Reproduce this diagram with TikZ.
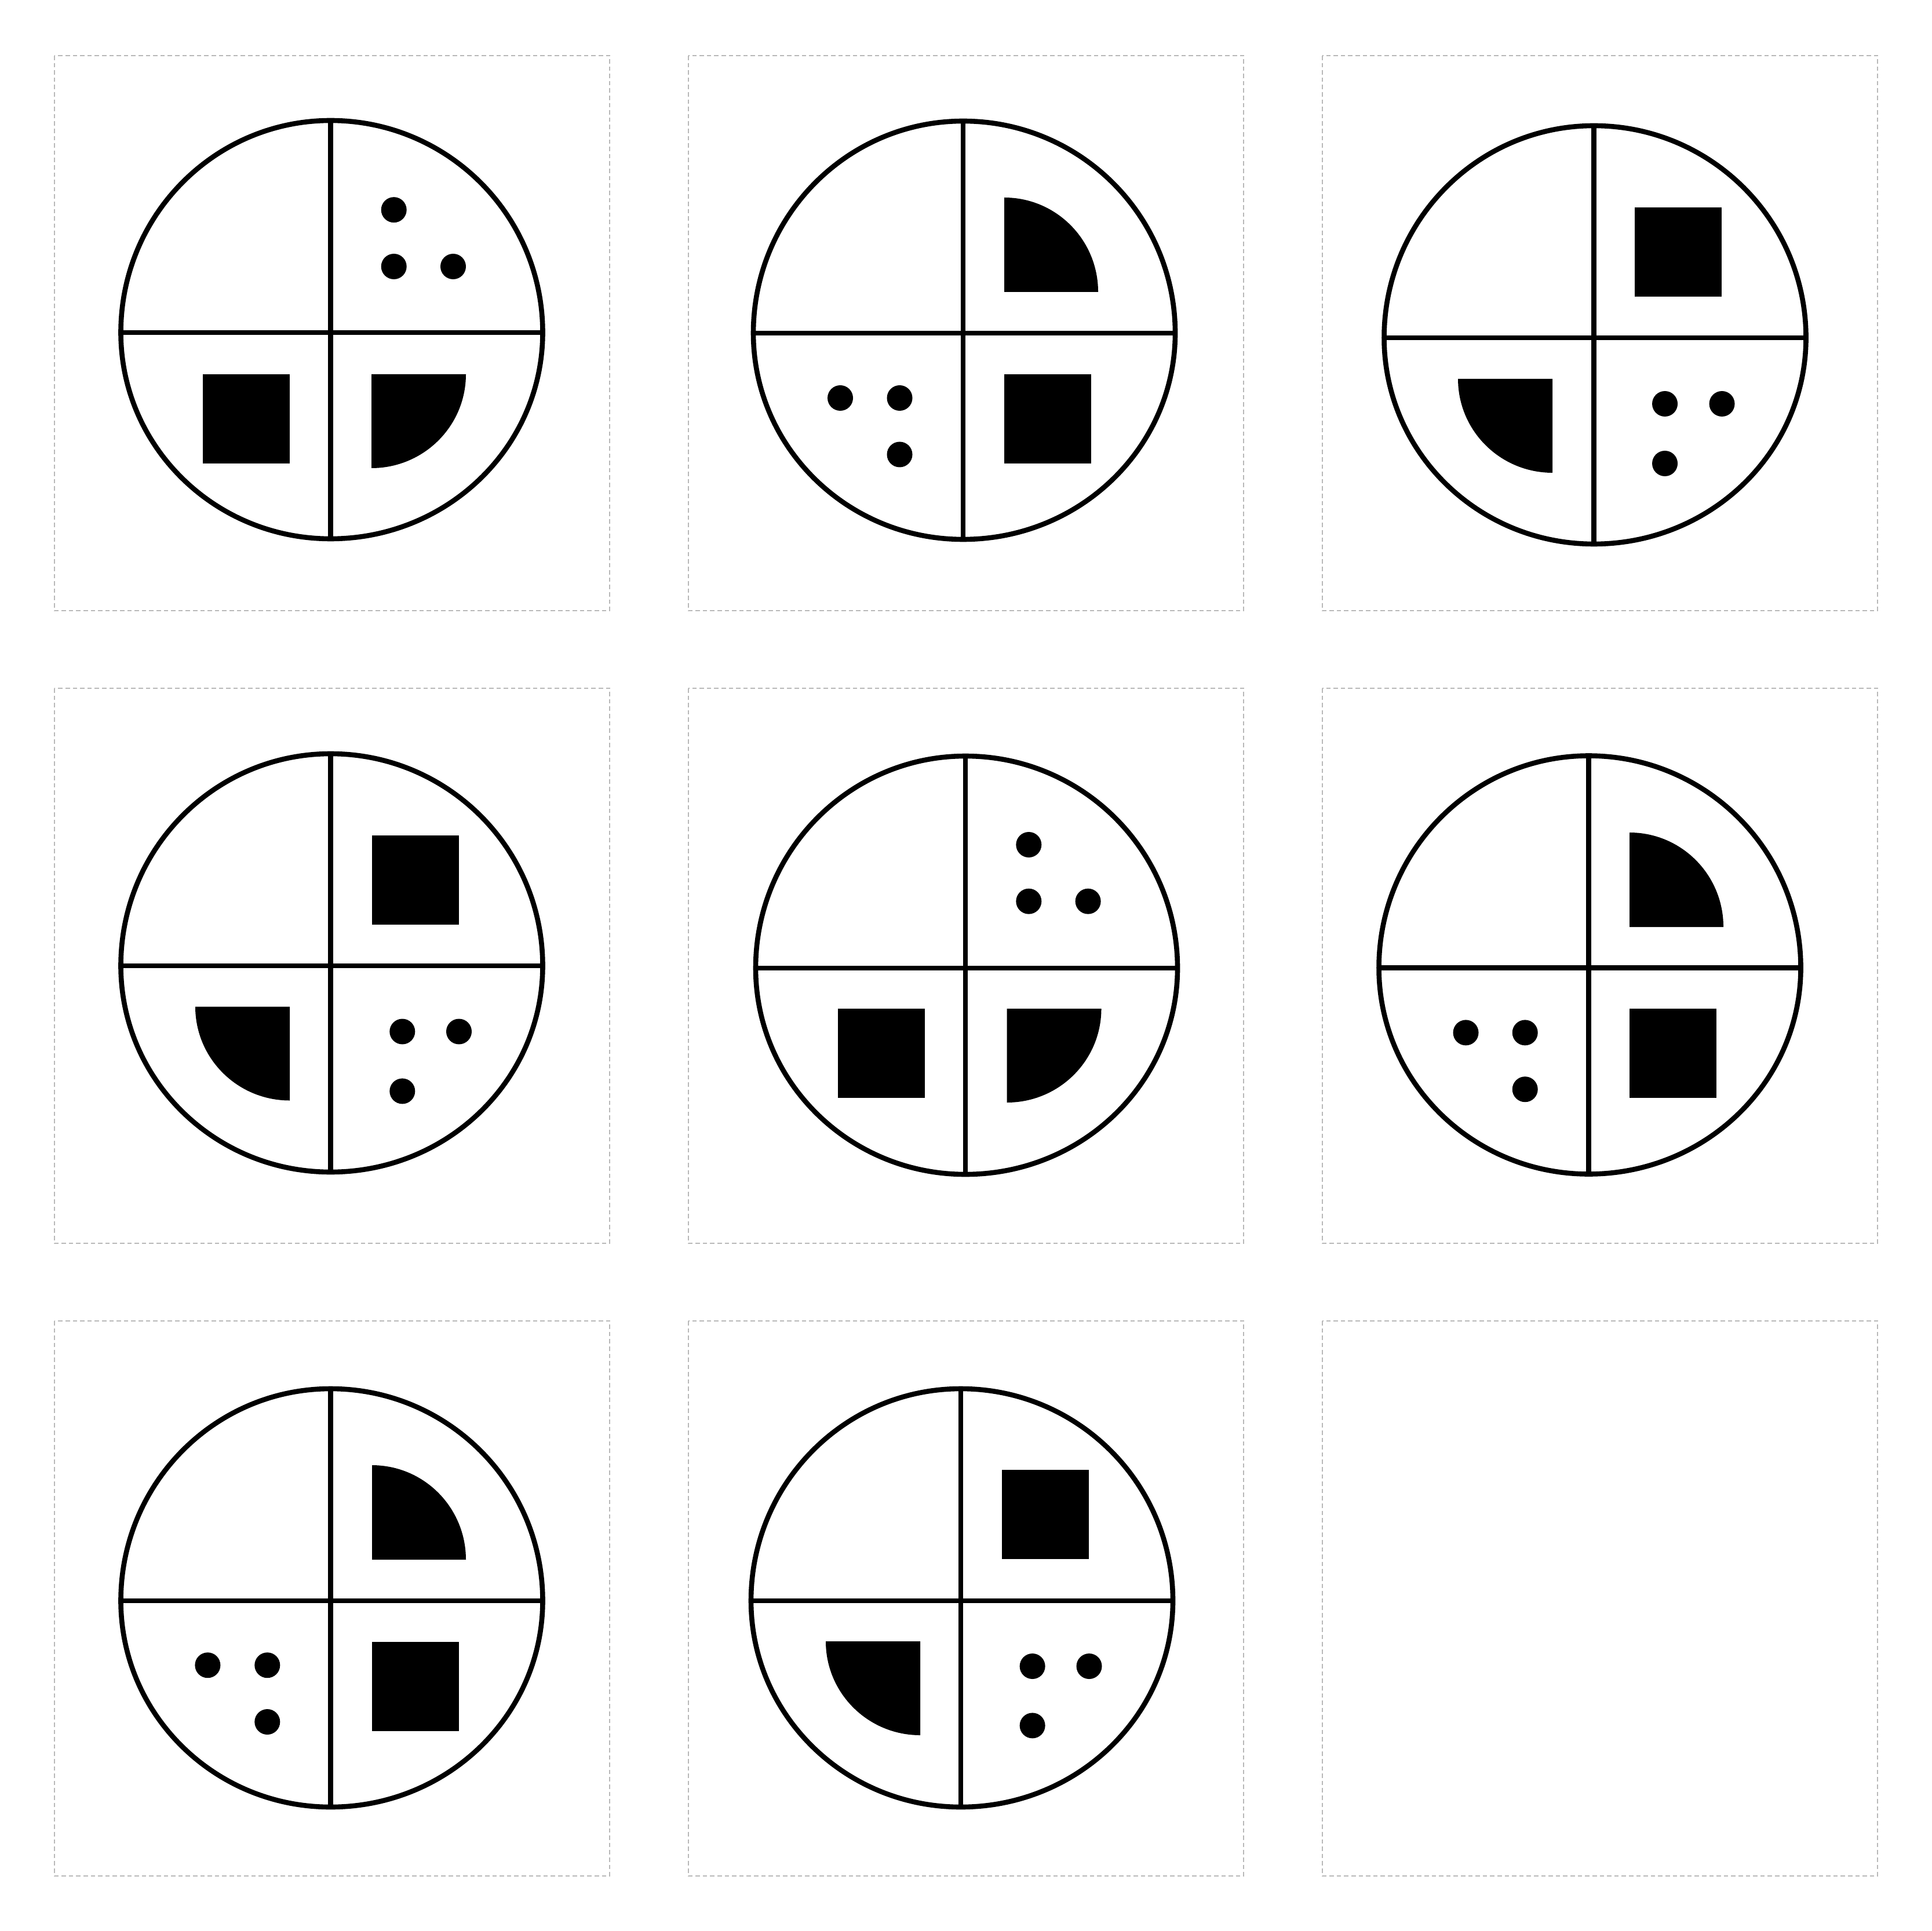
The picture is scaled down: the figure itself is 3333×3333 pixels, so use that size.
\documentclass[tikz,border=0pt]{standalone}
\usetikzlibrary{calc}
\definecolor{framegrey}{gray}{0.72}
\tikzset{
  cell/.style={draw=framegrey,line width=0.25pt,dash pattern=on 0.38mm off 0.25mm},
  rim/.style={draw,line width=0.43mm,line join=round},
  pip/.style={fill=black},
}
% circle cut in four; centre is a named coordinate
\newcommand{\wheel}[1]{%
  \draw[rim] ($(#1)+(366,0)$)
    arc[start angle=0,end angle=90,x radius=366,y radius=356]
    arc[start angle=90,end angle=180,x radius=362,y radius=356]
    arc[start angle=180,end angle=270,x radius=362,y radius=366]
    arc[start angle=270,end angle=360,x radius=366,y radius=366] -- cycle;
  \draw[rim] ($(#1)+(0,-366)$) -- ($(#1)+(0,356)$);
  \draw[rim] ($(#1)+(-362,0)$) -- ($(#1)+(366,0)$);
}
\newcommand{\blocksq}[2]{\fill (#1,#2) rectangle ++(150,154);}
% quarter discs, given by their square corner
\newcommand{\qdown}[2]{\fill (#1,#2) -- ++(163,0)
  arc[start angle=0,end angle=90,x radius=163,y radius=162] -- cycle;}
\newcommand{\qup}[2]{\fill (#1,#2) -- ++(0,-163)
  arc[start angle=270,end angle=360,x radius=162,y radius=163] -- cycle;}
\newcommand{\qleft}[2]{\fill (#1,#2) -- ++(0,162)
  arc[start angle=90,end angle=180,x radius=163,y radius=162] -- cycle;}

\begin{document}
\begin{tikzpicture}[x=0.05mm,y=-0.05mm]
\useasboundingbox (0,0) rectangle (3333,3333);

\foreach \col in {0,1,2}
  \foreach \row in {0,1,2}
    \draw[cell] ({94+1094*\col},{96+1092*\row}) rectangle ++(958,958);

\coordinate (w1) at (570.5,574);
\coordinate (w2) at (1662,575);
\coordinate (w3) at (2750.5,583);
\coordinate (w4) at (570.5,1667);
\coordinate (w5) at (1666,1671);
\coordinate (w6) at (2741.5,1670.5);
\coordinate (w7) at (570.5,2763);
\coordinate (w8) at (1658,2763);
\foreach \n in {1,...,8} \wheel{w\n};

% row 1
\foreach \p in {(679.7,362.2),(679.7,460),(782,460)} \fill[pip] \p circle[radius=22];
\blocksq{350}{646}
\qdown{641}{646}

\qup{1733}{504}
\foreach \p in {(1450,687),(1552.5,687),(1552.5,784.5)} \fill[pip] \p circle[radius=22];
\blocksq{1733}{646}

\blocksq{2821}{358}
\qleft{2679}{654}
\foreach \p in {(2873,697),(2971.5,697),(2873,800)} \fill[pip] \p circle[radius=22];

% row 2
\blocksq{642}{1441.5}
\qleft{500}{1737.5}
\foreach \p in {(694.3,1780.5),(792,1780.5),(694.3,1883.4)} \fill[pip] \p circle[radius=22];

\foreach \p in {(1775.3,1458),(1775.3,1555.7),(1877.6,1555.7)} \fill[pip] \p circle[radius=22];
\blocksq{1446}{1741}
\qdown{1737.5}{1741}

\qup{2812}{1600}
\foreach \p in {(2529.5,1782.4),(2631.7,1782.4),(2631.7,1880.2)} \fill[pip] \p circle[radius=22];
\blocksq{2812}{1741}

% row 3
\qup{642}{2692}
\foreach \p in {(358.4,2874.2),(461.3,2874.2),(461.3,2972)} \fill[pip] \p circle[radius=22];
\blocksq{642}{2834}

\blocksq{1729}{2537}
\qleft{1588}{2833}
\foreach \p in {(1781.6,2876),(1879.5,2876),(1781.6,2978.4)} \fill[pip] \p circle[radius=22];

\end{tikzpicture}
\end{document}
